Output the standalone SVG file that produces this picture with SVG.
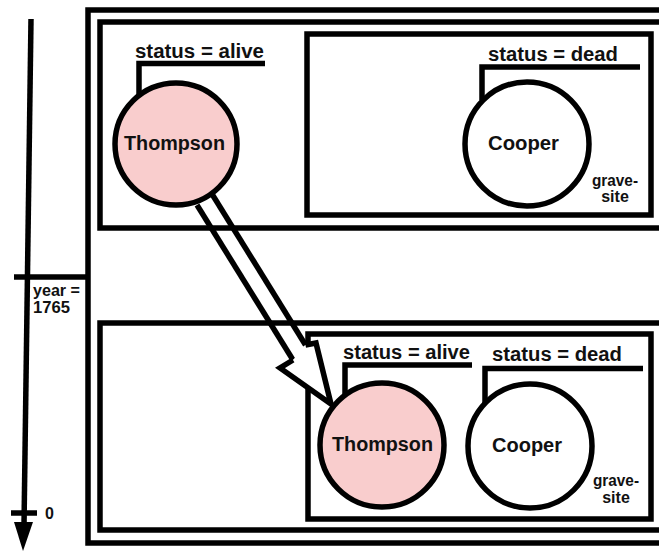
<svg xmlns="http://www.w3.org/2000/svg" width="659" height="551" viewBox="0 0 659 551">
<style>
.ln{fill:none;stroke:#000;stroke-width:5.5;stroke-linejoin:miter;stroke-linecap:butt}
.box{fill:none;stroke:#000;stroke-width:5.5}
.alive{fill:#f9cdcd;stroke:#000;stroke-width:5.5}
.dead{fill:#fff;stroke:#000;stroke-width:5.5}
.big{font-family:"Liberation Sans",Arial,sans-serif;font-weight:bold;font-size:20px;fill:#111}
.small{font-family:"Liberation Sans",Arial,sans-serif;font-weight:bold;font-size:16px;fill:#111}
.yr{font-family:"Liberation Sans",Arial,sans-serif;font-weight:bold;font-size:16px;fill:#111}
</style>
<rect width="659" height="551" fill="#fff"/>

<g id="timeline">
<line class="ln" x1="31" y1="19" x2="24" y2="526"/>
<polygon points="14,522 33,522 23,551" fill="#000"/>
<line class="ln" x1="14" y1="277" x2="88" y2="277"/>
<line class="ln" x1="11" y1="513" x2="37" y2="513"/>
<text class="yr" x="33" y="296" textLength="47" lengthAdjust="spacingAndGlyphs">year =</text>
<text class="yr" x="33" y="313" textLength="37" lengthAdjust="spacingAndGlyphs">1765</text>
<text class="yr" x="45" y="519">0</text>
</g>

<g id="frame">
<rect class="box" x="88" y="10" width="600" height="533"/>
</g>

<g id="top-state">
<rect class="box" x="100" y="22" width="590" height="206"/>
</g>
<g id="top-gravesite">
<rect class="box" x="307" y="34" width="344" height="181"/>
<text class="small" x="615" y="186" text-anchor="middle" textLength="46" lengthAdjust="spacingAndGlyphs">grave-</text>
<text class="small" x="615" y="202" text-anchor="middle">site</text>
</g>

<g id="bottom-state">
<rect class="box" x="100" y="323" width="590" height="207"/>
</g>
<g id="bottom-gravesite">
<rect class="box" x="308" y="334" width="343" height="185"/>
<text class="small" x="616" y="486" text-anchor="middle" textLength="46" lengthAdjust="spacingAndGlyphs">grave-</text>
<text class="small" x="616" y="503" text-anchor="middle">site</text>
</g>

<g id="connectors">
<line class="ln" x1="197" y1="205" x2="293" y2="360"/>
<line class="ln" x1="212" y1="194" x2="305.5" y2="345"/>
<path class="ln" d="M305.5,345 L316,343 L331,404 L280,368 L293,360" style="fill:#fff"/>
</g>

<g id="thompson-top">
<circle class="alive" cx="176" cy="144" r="61"/>
<text class="big" x="174.5" y="150" text-anchor="middle" textLength="101" lengthAdjust="spacingAndGlyphs">Thompson</text>
<polyline class="ln" points="139,96 139,63.5 265,63.5"/>
<text class="big" x="135" y="58" textLength="129" lengthAdjust="spacingAndGlyphs">status = alive</text>
</g>

<g id="cooper-top">
<circle class="dead" cx="527" cy="144" r="62"/>
<text class="big" x="523.5" y="150" text-anchor="middle" textLength="71" lengthAdjust="spacingAndGlyphs">Cooper</text>
<polyline class="ln" points="482,100 482,67 640,67"/>
<text class="big" x="488" y="61" textLength="130" lengthAdjust="spacingAndGlyphs">status = dead</text>
</g>

<g id="thompson-bottom">
<circle class="alive" cx="382" cy="445" r="62"/>
<text class="big" x="382.5" y="451" text-anchor="middle" textLength="101" lengthAdjust="spacingAndGlyphs">Thompson</text>
<polyline class="ln" points="345,396 345,365 472,365"/>
<text class="big" x="343" y="359" textLength="127" lengthAdjust="spacingAndGlyphs">status = alive</text>
</g>

<g id="cooper-bottom">
<circle class="dead" cx="530" cy="446" r="62"/>
<text class="big" x="527" y="452" text-anchor="middle" textLength="70" lengthAdjust="spacingAndGlyphs">Cooper</text>
<polyline class="ln" points="485,403 485,368.5 643,368.5"/>
<text class="big" x="492" y="361" textLength="130" lengthAdjust="spacingAndGlyphs">status = dead</text>
</g>
</svg>
